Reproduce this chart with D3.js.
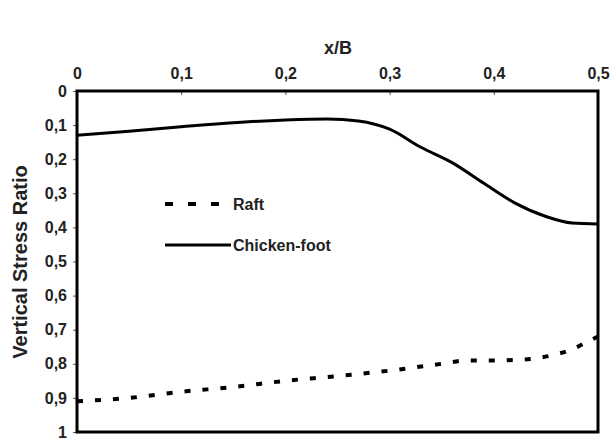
<!DOCTYPE html>
<html><head><meta charset="utf-8">
<script src="https://cdn.jsdelivr.net/npm/d3@7"></script>
<style>body{margin:0;background:#fff}</style>
</head><body>
<svg id="c" width="611" height="444"></svg>
<script>
const xTicks = [0, 0.1, 0.2, 0.3, 0.4, 0.5];
const yTicks = [0, 0.1, 0.2, 0.3, 0.4, 0.5, 0.6, 0.7, 0.8, 0.9, 1];
const chickenX = [0, 0.05, 0.1, 0.15, 0.2, 0.24, 0.27, 0.3, 0.33, 0.36, 0.39, 0.42, 0.45, 0.475, 0.5];
const chickenY = [0.13, 0.118, 0.105, 0.093, 0.085, 0.082, 0.088, 0.112, 0.165, 0.21, 0.27, 0.328, 0.368, 0.387, 0.39];
const raftX = [0, 0.05, 0.1, 0.15, 0.2, 0.25, 0.3, 0.35, 0.375, 0.4, 0.425, 0.44, 0.46, 0.475, 0.49, 0.5];
const raftY = [0.91, 0.9, 0.882, 0.868, 0.85, 0.836, 0.82, 0.8, 0.79, 0.79, 0.788, 0.784, 0.772, 0.758, 0.735, 0.72];
const seriesNames = ["Raft", "Chicken-foot"];

const svg = d3.select("#c");
const L = 77, R = 598, T = 91, B = 432;
const x = d3.scaleLinear().domain([0, 0.5]).range([L, R]);
const y = d3.scaleLinear().domain([0, 1]).range([T, B]);
const fmt = d => d === 0 ? "0" : d === 1 ? "1" : d3.format(".1f")(d).replace(".", ",");
const font = "'Liberation Sans',Arial,sans-serif";

const xAxis = svg.append("g").attr("transform", `translate(0,${T})`)
  .call(d3.axisTop(x).tickValues(xTicks).tickFormat(fmt).tickSize(-4).tickPadding(12));
const yAxis = svg.append("g").attr("transform", `translate(${L},0)`)
  .call(d3.axisLeft(y).tickValues(yTicks).tickFormat(fmt).tickSize(4).tickPadding(6));
[xAxis, yAxis].forEach(g => {
  g.select(".domain").remove();
  g.selectAll(".tick line").attr("stroke", "#555").attr("stroke-width", 1);
  g.selectAll("text").attr("font-family", font).attr("font-weight", "bold")
    .attr("font-size", 16).attr("fill", "#222");
});

svg.append("rect").attr("x", L).attr("y", T).attr("width", R - L).attr("height", B - T)
  .attr("fill", "none").attr("stroke", "#000").attr("stroke-width", 3);

const line = d3.line().curve(d3.curveMonotoneX);
svg.append("path")
  .attr("d", line(chickenX.map((d, i) => [x(d), y(chickenY[i])])))
  .attr("fill", "none").attr("stroke", "#000").attr("stroke-width", 3);
svg.append("path")
  .attr("d", line(raftX.map((d, i) => [x(d), y(raftY[i])])))
  .attr("fill", "none").attr("stroke", "#000").attr("stroke-width", 4)
  .attr("stroke-dasharray", "6,12");

// legend
const lg = svg.append("g");
lg.append("line").attr("x1", 165).attr("x2", 230).attr("y1", 204).attr("y2", 204)
  .attr("stroke", "#000").attr("stroke-width", 4).attr("stroke-dasharray", "8,15");
lg.append("text").attr("x", 233).attr("y", 210).text(seriesNames[0]);
lg.append("line").attr("x1", 165).attr("x2", 231).attr("y1", 245).attr("y2", 245)
  .attr("stroke", "#000").attr("stroke-width", 3);
lg.append("text").attr("x", 233).attr("y", 251).text(seriesNames[1]);
lg.selectAll("text").attr("font-family", font).attr("font-weight", "bold")
  .attr("font-size", 16).attr("fill", "#222");

svg.append("text").attr("x", 338).attr("y", 54).attr("text-anchor", "middle")
  .attr("font-family", font).attr("font-weight", "bold").attr("font-size", 18)
  .attr("fill", "#222").text("x/B");
svg.append("text").attr("transform", "translate(27,262) rotate(-90)")
  .attr("text-anchor", "middle").attr("font-family", font)
  .attr("font-weight", "bold").attr("font-size", 20).attr("fill", "#222")
  .text("Vertical Stress Ratio");
</script>
</body></html>
